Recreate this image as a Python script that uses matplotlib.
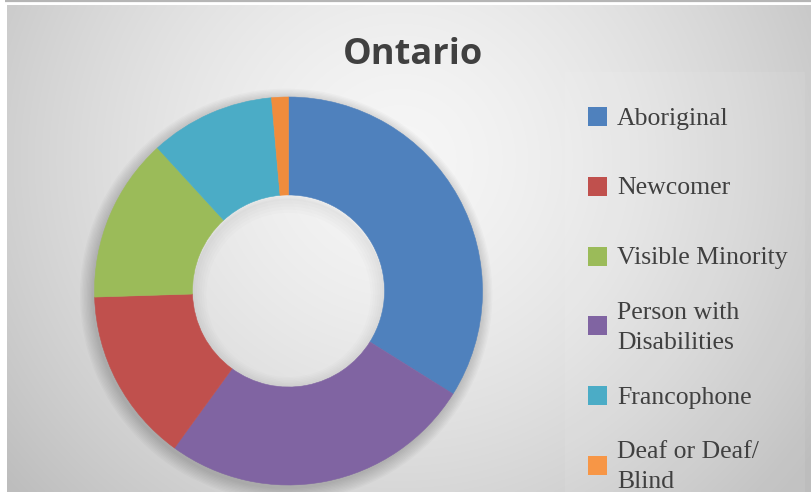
import numpy as np
import matplotlib
matplotlib.use("Agg")
import matplotlib.pyplot as plt
from matplotlib.patches import Rectangle, Wedge

# ---- data ----
pie_labels = ["Aboriginal", "Person with Disabilities", "Newcomer",
              "Visible Minority", "Francophone", "Deaf or Deaf/Blind"]
pie_values = [33.9, 26.1, 14.5, 13.7, 10.4, 1.4]
pie_colors = ["#4F81BD", "#8064A2", "#C0504D", "#9BBB59", "#4BACC6", "#F08C3C"]

legend_labels = ["Aboriginal", "Newcomer", "Visible Minority",
                 "Person with\nDisabilities", "Francophone", "Deaf or Deaf/\nBlind"]
legend_colors = ["#4F81BD", "#C0504D", "#9BBB59", "#8064A2", "#4BACC6", "#F79646"]
title = "Ontario"

W, H = 812, 492
fig = plt.figure(figsize=(W / 100, H / 100), dpi=100)
fig.patch.set_facecolor("white")

# ---- background ----
bg = fig.add_axes([0, 0, 1, 1])
bg.set_xlim(0, W)
bg.set_ylim(H, 0)
bg.axis("off")
xx, yy = np.meshgrid(np.linspace(7, W, 400), np.linspace(5, H, 250))
r = np.sqrt(((xx - 400) / 430) ** 2 + ((yy - 160) / 420) ** 2)
val = 0.965 - 0.17 * np.clip(r, 0, 1.2) ** 1.5
img = np.dstack([val, val, val])
bg.imshow(img, extent=[7, W, H, 5], aspect="auto", zorder=0, interpolation="bilinear")
bg.plot([5, W], [1.2, 1.2], color="#b5b5b5", lw=1.6, zorder=1, solid_capstyle="butt")
bg.add_patch(Rectangle((565, 72), 240, 425, facecolor="white", alpha=0.08,
                       edgecolor="none", zorder=1))

# ---- title ----
bg.text(413, 64, title, ha="center", va="baseline", fontsize=26,
        fontweight="bold", family="Open Sans", color="#404040", zorder=3)

# ---- legend ----
row0, step = 116.5, 69.8
for i, (lab, col) in enumerate(zip(legend_labels, legend_colors)):
    cy = row0 + i * step
    bg.add_patch(Rectangle((588, cy - 9.5), 19, 19, facecolor=col,
                           edgecolor="none", zorder=3))
    lines = lab.split("\n")
    n = len(lines)
    for j, ln in enumerate(lines):
        base = cy + 8.0 + (j - (n - 1) / 2) * 30
        bg.text(617, base, ln, ha="left", va="baseline", fontsize=18.5,
                family="Liberation Serif", color="#404040", zorder=3)

# ---- donut ----
cx, cyp, R = 288.5, 291, 194
ax = fig.add_axes([(cx - R) / W, (H - cyp - R) / H, 2 * R / W, 2 * R / H])
ax.set_facecolor("none")
ax.axis("off")

# soft shadow outside the ring
for k in range(10):
    rr = 1.0 + 0.007 * k
    sh = Wedge((-0.012, -0.02), rr, 0, 360, width=0.1 + 0.007 * k,
               facecolor="black", edgecolor="none", alpha=0.018, clip_on=False)
    ax.add_patch(sh)
# faint inner shading of the hole
for k in range(6):
    rr = 0.495
    sh = Wedge((0.0, -0.004 * k), rr, 0, 360, width=0.012 * (k + 1),
               facecolor="black", edgecolor="none", alpha=0.012, clip_on=False)
    ax.add_patch(sh)

wedges, _ = ax.pie(pie_values, colors=pie_colors, startangle=90, counterclock=False,
                   radius=1.0, wedgeprops=dict(width=0.505, linewidth=0.4))
for w_, c in zip(wedges, pie_colors):
    w_.set_edgecolor(c)
ax.set_xlim(-1, 1)
ax.set_ylim(-1, 1)

fig.savefig("out.png", dpi=100, facecolor=fig.get_facecolor())
